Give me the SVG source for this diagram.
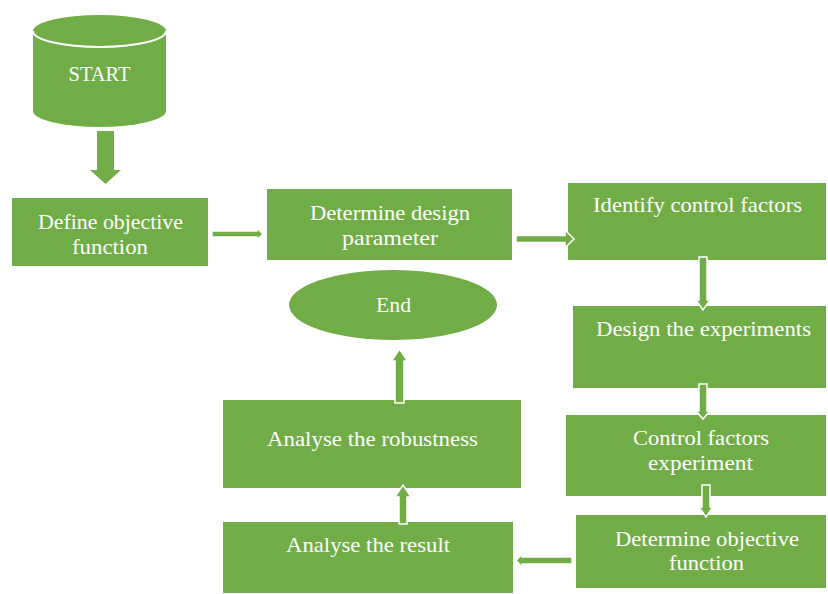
<svg xmlns="http://www.w3.org/2000/svg" width="828" height="594" viewBox="0 0 828 594">
  <style>
    .shape { fill: #70AD47; }
    .arrow { fill: #70AD47; stroke: #FFFFFF; stroke-width: 1.5; stroke-linejoin: miter; }
    .label { font-family: "Liberation Serif", "DejaVu Serif", serif; font-size: 21px; fill: #FFFFFF; text-anchor: middle; }
  </style>
  <rect width="828" height="594" fill="#FFFFFF"/>

  <g id="start">
    <path class="shape" d="M33,31 L33,111 A66.5,16 0 0 0 166,111 L166,31 A66.5,16 0 0 0 33,31 Z"/>
    <path d="M33,31 A66.5,16 0 0 0 166,31" fill="none" stroke="#FFFFFF" stroke-width="2"/>
    <text class="label" x="99.5" y="81" textLength="62" lengthAdjust="spacingAndGlyphs">START</text>
  </g>

  <g id="define-objective">
    <rect class="shape" x="12" y="198" width="196" height="68"/>
    <text class="label" x="110.5" y="229" textLength="145" lengthAdjust="spacingAndGlyphs">Define objective</text>
    <text class="label" x="110" y="254" textLength="76" lengthAdjust="spacingAndGlyphs">function</text>
  </g>

  <g id="determine-design">
    <rect class="shape" x="267" y="189" width="245" height="71"/>
    <text class="label" x="390" y="220" textLength="160" lengthAdjust="spacingAndGlyphs">Determine design</text>
    <text class="label" x="390" y="245" textLength="96" lengthAdjust="spacingAndGlyphs">parameter</text>
  </g>

  <g id="identify-control">
    <rect class="shape" x="568" y="183" width="258" height="77"/>
    <text class="label" x="697.5" y="212" textLength="209" lengthAdjust="spacingAndGlyphs">Identify control factors</text>
  </g>

  <g id="design-experiments">
    <rect class="shape" x="573" y="306" width="253" height="82"/>
    <text class="label" x="703.5" y="336" textLength="215" lengthAdjust="spacingAndGlyphs">Design the experiments</text>
  </g>

  <g id="control-experiment">
    <rect class="shape" x="566" y="415" width="260" height="81"/>
    <text class="label" x="701" y="445" textLength="136" lengthAdjust="spacingAndGlyphs">Control factors</text>
    <text class="label" x="700.5" y="470" textLength="105" lengthAdjust="spacingAndGlyphs">experiment</text>
  </g>

  <g id="determine-objective">
    <rect class="shape" x="576" y="515" width="250" height="73"/>
    <text class="label" x="707" y="546" textLength="184" lengthAdjust="spacingAndGlyphs">Determine objective</text>
    <text class="label" x="706.5" y="570" textLength="75" lengthAdjust="spacingAndGlyphs">function</text>
  </g>

  <g id="analyse-result">
    <rect class="shape" x="223" y="522" width="290" height="71"/>
    <text class="label" x="368" y="552" textLength="164" lengthAdjust="spacingAndGlyphs">Analyse the result</text>
  </g>

  <g id="analyse-robustness">
    <rect class="shape" x="223" y="400" width="298" height="88"/>
    <text class="label" x="372.5" y="446" textLength="211" lengthAdjust="spacingAndGlyphs">Analyse the robustness</text>
  </g>

  <g id="end">
    <ellipse class="shape" cx="393" cy="305" rx="104" ry="35"/>
    <text class="label" x="393.5" y="312" textLength="35" lengthAdjust="spacingAndGlyphs">End</text>
  </g>

  <g id="connectors">
    <!-- start to define objective -->
    <polygon class="shape" points="97,131 114,131 114,170 121,170 105.5,184 90,170 97,170"/>
    <!-- define objective to determine design -->
    <polygon class="arrow" points="212,231 257,231 257,228 263,234 257,240 257,237 212,237"/>
    <!-- determine design to identify control -->
    <polygon class="arrow" points="516,235.5 565,235.5 565,230 574,239 565,248 565,242.5 516,242.5"/>
    <!-- identify control to design experiments -->
    <polygon class="arrow" points="699,257 707,257 707,300 710,300 703,310 696,300 699,300"/>
    <!-- design experiments to control experiment -->
    <polygon class="arrow" points="699,384 707,384 707,411 710,411 703,419 696,411 699,411"/>
    <!-- control experiment to determine objective -->
    <polygon class="arrow" points="702,485 710,485 710,507 713,507 706,517 699,507 702,507"/>
    <!-- determine objective to analyse result -->
    <polygon class="arrow" points="572,557 522,557 522,554 516,560.5 522,567 522,564 572,564"/>
    <!-- analyse result to analyse robustness -->
    <polygon class="arrow" points="399,524 407,524 407,497 411,497 403,485 395,497 399,497"/>
    <!-- analyse robustness to end -->
    <polygon class="arrow" points="395,403 404,403 404,361 407.5,361 399.5,349 391.5,361 395,361"/>
  </g>
</svg>
